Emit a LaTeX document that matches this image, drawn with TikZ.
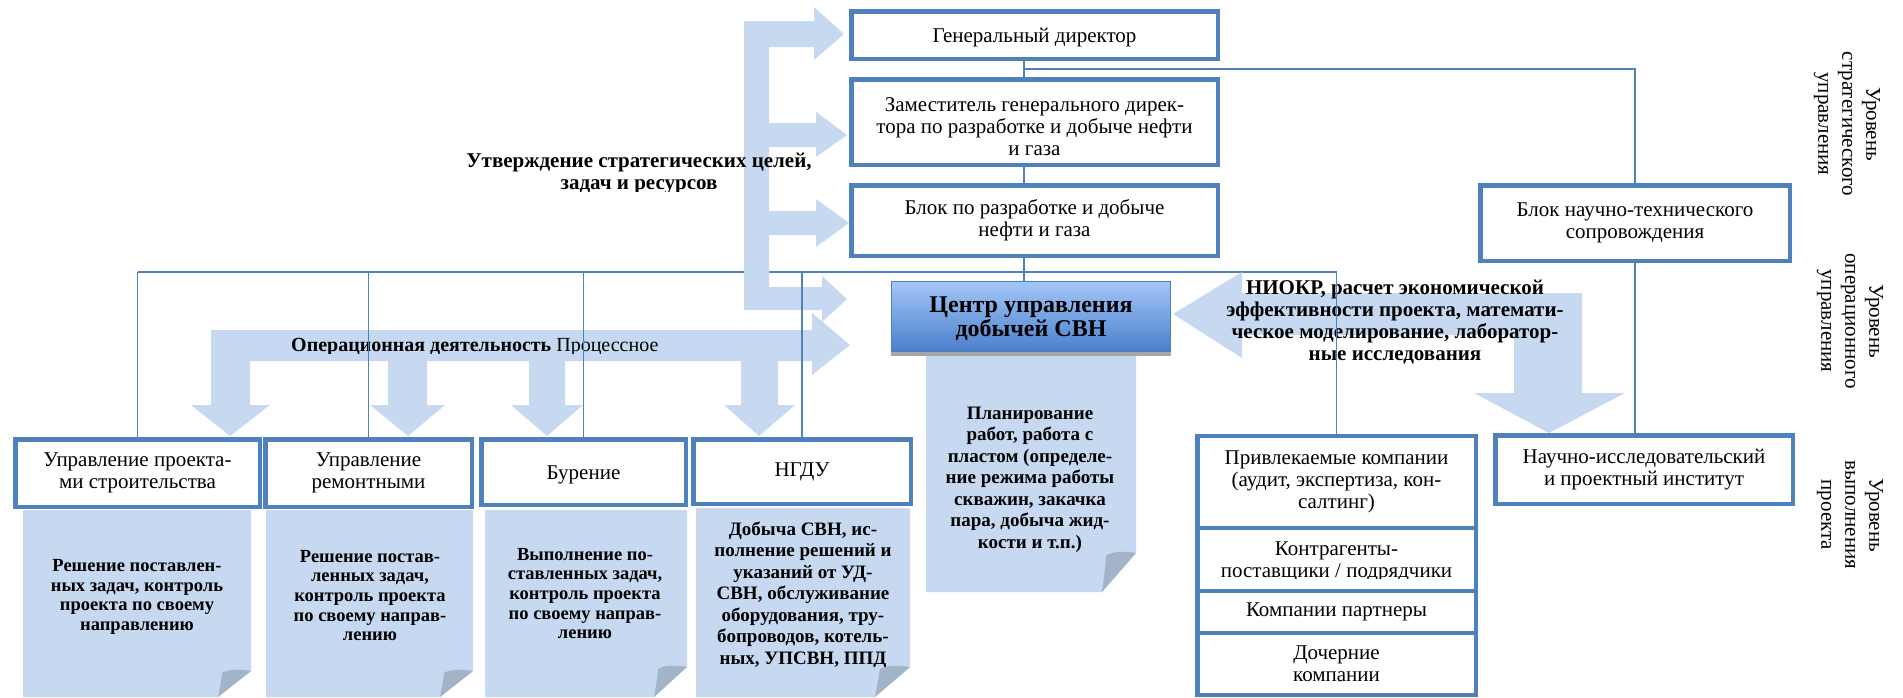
\documentclass[tikz,border=0pt]{standalone}
\usepackage{fontspec}
\setmainfont{Liberation Serif}
\usetikzlibrary{calc}
\pgfdeclarelayer{back}
\pgfdeclarelayer{bus}
\pgfdeclarelayer{arr}
\pgfsetlayers{back,bus,arr,main}
\definecolor{bblue}{HTML}{4F81BD}
\definecolor{lblue}{HTML}{C6D9F1}
\definecolor{foldc}{HTML}{A3B4C8}
\definecolor{ctop}{HTML}{A4C6F8}
\definecolor{cbot}{HTML}{4A7FCB}
\begin{document}
\begin{tikzpicture}[x=1pt,y=-1pt,
  box/.style={draw=bblue, line width=4.5pt, fill=white, align=center, inner sep=0pt,
    font=\fontsize{21}{22}\selectfont},
  link/.style={draw=bblue, line width=1.4pt},
  bigarrow/.style={fill=lblue},
  notebg/.style={fill=lblue},
  foldtri/.style={fill=foldc},
  plaintext/.style={align=center, inner sep=0pt, font=\fontsize{21}{22}\selectfont},
  notetext/.style={align=center, inner sep=0pt, font=\bfseries\fontsize{18.5}{19.7}\selectfont},
  notetextb/.style={align=center, inner sep=0pt, font=\bfseries\fontsize{19}{21.5}\selectfont},
  boldtext/.style={align=center, inner sep=0pt, font=\bfseries\fontsize{21}{22}\selectfont},
  lvl/.style={rotate=-90, align=center, inner sep=0pt, font=\fontsize{21}{24}\selectfont}
]
\useasboundingbox (0,0) rectangle (1903,697);
\begin{pgfonlayer}{back}
\fill[white] (0,0) rectangle (1903,697);
% callouts
\fill[notebg] (23,510) -- (251,510) -- (251,671) -- (218,697) -- (23,697) -- cycle;
\fill[foldtri] (251,671) .. controls (240,669) and (228,669) .. (222,673) .. controls (221,682) .. (218,697) -- cycle;
\fill[notebg] (266,510) -- (473,510) -- (473,671) -- (440,697) -- (266,697) -- cycle;
\fill[foldtri] (473,671) .. controls (462,669) and (450,669) .. (444,673) .. controls (443,682) .. (440,697) -- cycle;
\fill[notebg] (485,510) -- (687,510) -- (687,667) -- (654,697) -- (485,697) -- cycle;
\fill[foldtri] (687,667) .. controls (676,665) and (664,665) .. (658,669) .. controls (657,680) .. (654,697) -- cycle;
\fill[notebg] (696,508) -- (910,508) -- (910,667) -- (875,697) -- (696,697) -- cycle;
\fill[foldtri] (910,667) .. controls (899,665) and (887,665) .. (880,669) .. controls (878,680) .. (875,697) -- cycle;
\fill[notebg] (926,356) -- (1136,356) -- (1136,553) -- (1102,592) -- (926,592) -- cycle;
\fill[foldtri] (1136,553) .. controls (1125,551) and (1113,551) .. (1106,556) .. controls (1105,570) .. (1102,592) -- cycle;
\end{pgfonlayer}

% boxes
\node[box, minimum width=366.5pt, minimum height=47.5pt] (gd) at (1034.5,35) {};
\node[plaintext] (gdt) at (1034.5,38) {Генеральный директор};
\node[box, minimum width=366.5pt, minimum height=85.5pt] (zam) at (1034.5,122) {};
\node[plaintext] (zamt) at (1034.5,126.5) {Заместитель генерального дирек-\\тора по разработке и добыче нефти\\и газа};
\node[box, minimum width=366.5pt, minimum height=70.5pt] (blok) at (1034.5,220.5) {Блок по разработке и добыче\\нефти и газа};
\node[box, minimum width=309.5pt, minimum height=75.5pt] (bnt) at (1635,223) {Блок научно-технического\\сопровождения};
\fill[black!35] (891,349) rectangle (1171,356);
\node[draw=bblue, line width=1.2pt, top color=ctop, bottom color=cbot, minimum width=278.8pt, minimum height=69.8pt] (centr) at (1031,316.5) {};
\node[align=center, inner sep=0pt, font=\bfseries\fontsize{24}{24}\selectfont] (centrt) at (1031,319) {Центр управления\\добычей СВН};
\node[box, minimum width=244.5pt, minimum height=67.5pt] (b1) at (137.5,473) {Управление проекта-\\ми строительства};
\node[box, minimum width=206.5pt, minimum height=67.5pt] (b2) at (368.5,473) {Управление\\ремонтными};
\node[box, minimum width=204.5pt, minimum height=65.5pt] (b3) at (583.5,472) {};
\node[plaintext] (b3t) at (583.5,475) {Бурение};
\node[box, minimum width=217.5pt, minimum height=64.5pt] (b4) at (802,471.5) {НГДУ};
\node[box, minimum width=278.5pt, minimum height=91.75pt] (priv) at (1336.5,482.1) {Привлекаемые компании\\(аудит, экспертиза, кон-\\салтинг)};
\node[box, minimum width=278.5pt, minimum height=63pt] (kontr) at (1336.5,559.5) {};
\node[box, minimum width=278.5pt, minimum height=42pt] (partn) at (1336.5,612) {Компании партнеры};
\node[box, minimum width=278.5pt, minimum height=62pt] (doch) at (1336.5,664) {Дочерние\\компании};
\node[box, minimum width=297.5pt, minimum height=68.5pt] (nii) at (1644,469.5) {Научно-исследовательский\\и проектный институт};
\begin{scope}
\clip (1198,530) rectangle (1475,578.5);
\node[plaintext] (kontrt) at (1336.5,561.5) {Контрагенты-\\поставщики / подрядчики};
\end{scope}

% connector coordinates
\coordinate (busy) at (0,272);
\coordinate (topy) at (0,69);
\coordinate (spine) at (1024,0);
\begin{pgfonlayer}{bus}
\draw[link] (b1.north |- busy) -- (priv.north |- busy);
\draw[link] (gd.south -| spine) -- (zam.north -| spine);
\draw[link] (zam.south -| spine) -- (blok.north -| spine);
\draw[link] (blok.south -| spine) -- (centr.north -| spine);
\draw[link] (spine |- topy) -| (bnt.north);
\draw[link] (bnt.south) -- (bnt.south |- nii.north);
\end{pgfonlayer}

% big arrows
\begin{pgfonlayer}{arr}
\fill[bigarrow] (744,21) -- (814,21) -- (814,7) -- (844,34) -- (814,60) -- (814,47) -- (769,47)
  -- (769,123) -- (816,123) -- (816,112) -- (847,135) -- (816,157) -- (816,147) -- (769,147)
  -- (769,211) -- (816,211) -- (816,199) -- (849,223) -- (816,247) -- (816,235) -- (769,235)
  -- (769,287) -- (822,287) -- (822,276) -- (847,299) -- (822,322) -- (822,310) -- (744,310) -- cycle;
\fill[bigarrow] (211,330) -- (812,330) -- (812,313) -- (850,345) -- (812,375) -- (812,361)
  -- (778,361) -- (778,405) -- (795,405) -- (759,436) -- (724,405) -- (741,405) -- (741,361)
  -- (565,361) -- (565,405) -- (583,405) -- (547,436) -- (511,405) -- (529,405) -- (529,361)
  -- (427,361) -- (427,405) -- (445,405) -- (408,436) -- (370,405) -- (388,405) -- (388,361)
  -- (250,361) -- (250,405) -- (270,405) -- (230,436) -- (191,405) -- (211,405) -- cycle;
\fill[bigarrow] (1173,314) -- (1242,272) -- (1242,293) -- (1582,293) -- (1582,393) -- (1625,393)
  -- (1549,433) -- (1474,393) -- (1514,393) -- (1514,335) -- (1242,335) -- (1242,358) -- cycle;
\end{pgfonlayer}

% texts
\begin{scope}
\clip (440,140) rectangle (840,191);
\node[boldtext] (strat) at (639,173.5) {Утверждение стратегических целей,\\задач и ресурсов};
\end{scope}
\begin{scope}
\clip (280,320) rectangle (700,353);
\node[anchor=west, inner sep=0pt, font=\fontsize{20}{22}\selectfont] (optext) at (291,347) {\textbf{Операционная деятельность} Процессное};
\end{scope}
\node[boldtext] (niokr) at (1395,322) {НИОКР, расчет экономической\\эффективности проекта, математи-\\ческое моделирование, лаборатор-\\ные исследования};

\node[notetext] (n1) at (137,597) {Решение поставлен-\\ных задач, контроль\\проекта по своему\\направлению};
\node[notetext] (n2) at (370,595.5) {Решение постав-\\ленных задач,\\контроль проекта\\по своему направ-\\лению};
\node[notetext] (n3) at (585,593.5) {Выполнение по-\\ставленных задач,\\контроль проекта\\по своему направ-\\лению};
\begin{scope}
\clip (696,508) rectangle (910,666);
\node[notetextb] (n4) at (803,595) {Добыча СВН, ис-\\полнение решений и\\указаний от УД-\\СВН, обслуживание\\оборудования, тру-\\бопроводов, котель-\\ных, УПСВН, ППД};
\end{scope}
\node[notetextb] (nc) at (1030,479.5) {Планирование\\работ, работа с\\пластом (определе-\\ние режима работы\\скважин, закачка\\пара, добыча жид-\\кости и т.п.)};

\node[lvl] (lv1) at (1847,124) {Уровень\\стратегического\\управления};
\node[lvl] (lv2) at (1850,321) {Уровень\\операционного\\управления};
\node[lvl] (lv3) at (1850,515) {Уровень\\выполнения\\проекта};

% drop lines from the bus (drawn on top)
\draw[link] (b1.north |- busy) -- (b1.north);
\draw[link] (b2.north |- busy) -- (b2.north);
\draw[link] (b3.north |- busy) -- (b3.north);
\draw[link] (b4.north |- busy) -- (b4.north);
\draw[link] (priv.north |- busy) -- (priv.north);
\end{tikzpicture}
\end{document}
